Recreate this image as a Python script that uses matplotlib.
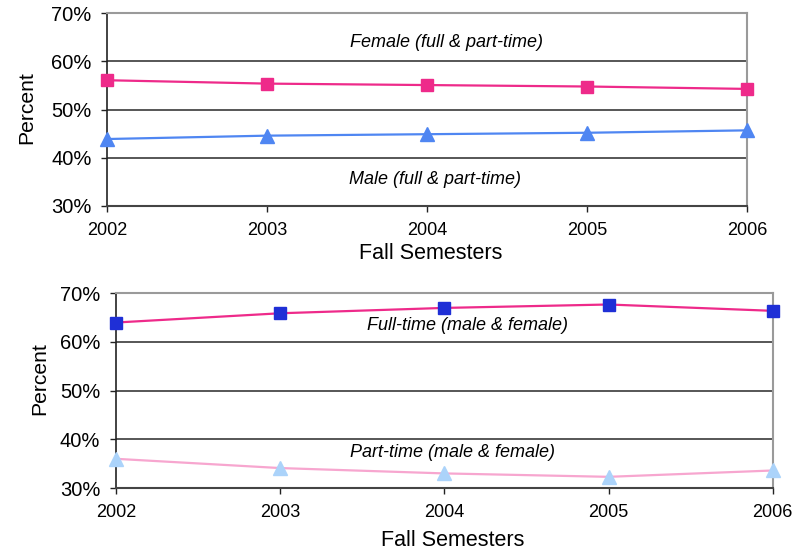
import matplotlib
matplotlib.use('Agg')
import matplotlib.pyplot as plt
from matplotlib.ticker import FuncFormatter

plt.rcParams['font.family'] = ['Liberation Sans', 'DejaVu Sans']

years = [2002, 2003, 2004, 2005, 2006]
female = [56.1, 55.4, 55.1, 54.8, 54.3]
male = [43.9, 44.6, 44.9, 45.2, 45.7]
full_time = [64.0, 65.9, 67.0, 67.7, 66.4]
part_time = [36.0, 34.1, 33.0, 32.3, 33.6]
yticks = [30, 40, 50, 60, 70]

fig = plt.figure(figsize=(7.99, 5.53), dpi=100)
ax1 = fig.add_axes([0.1343, 0.6275, 0.801, 0.3485])
ax2 = fig.add_axes([0.1452, 0.1175, 0.8219, 0.3521])

pct = FuncFormatter(lambda v, p: f"{v:.0f}%")


def style(ax, ylab_xy, xlab_xy):
    ax.set_xlim(years[0], years[-1])
    ax.set_ylim(30, 70)
    ax.set_yticks(yticks)
    ax.set_xticks(years)
    ax.yaxis.set_major_formatter(pct)
    ax.grid(axis='y', color='#3a3a3a', linewidth=1.2)
    ax.set_axisbelow(True)
    for s in ['top', 'right']:
        ax.spines[s].set_color('#9a9a9a')
        ax.spines[s].set_linewidth(1.5)
    ax.spines['left'].set_color('#222222')
    ax.spines['left'].set_linewidth(1.2)
    ax.spines['bottom'].set_color('#444444')
    ax.spines['bottom'].set_linewidth(1.5)
    ax.tick_params(axis='y', labelsize=14.5, length=4.3, width=1, color='#222222', pad=7)
    ax.tick_params(axis='x', labelsize=13, length=4.3, width=1, color='#222222', pad=7.5)
    ax.set_ylabel('Percent', fontsize=15.2, va='center')
    ax.yaxis.set_label_coords(*ylab_xy)
    ax.set_xlabel('Fall Semesters', fontsize=15.5, va='center')
    ax.xaxis.set_label_coords(*xlab_xy)


style(ax1, (-0.1255, 0.51), (0.505, -0.244))
ax1.plot(years, female, color='#EE2A8A', lw=1.6, marker='s', ms=9,
         mfc='#EE2A8A', mec='#EE2A8A', clip_on=False, zorder=3)
ax1.plot(years, male, color='#4F86F2', lw=1.6, marker='^', ms=10,
         mfc='#4F86F2', mec='#4F86F2', clip_on=False, zorder=3)
ax1.text(2004.12, 64.0, 'Female (full & part-time)', fontsize=13, style='italic',
         ha='center', va='center')
ax1.text(2004.05, 35.4, 'Male (full & part-time)', fontsize=13, style='italic',
         ha='center', va='center')

style(ax2, (-0.1165, 0.56), (0.512, -0.272))
ax2.plot(years, full_time, color='#EE2A8A', lw=1.6, marker='s', ms=9,
         mfc='#1F2FD6', mec='#1F2FD6', clip_on=False, zorder=3)
ax2.plot(years, part_time, color='#F7A6CF', lw=1.6, marker='^', ms=10,
         mfc='#ABD3FA', mec='#ABD3FA', clip_on=False, zorder=3)
ax2.text(2004.14, 63.3, 'Full-time (male & female)', fontsize=13, style='italic',
         ha='center', va='center')
ax2.text(2004.05, 37.4, 'Part-time (male & female)', fontsize=13, style='italic',
         ha='center', va='center')

fig.savefig('out.png', dpi=100)
